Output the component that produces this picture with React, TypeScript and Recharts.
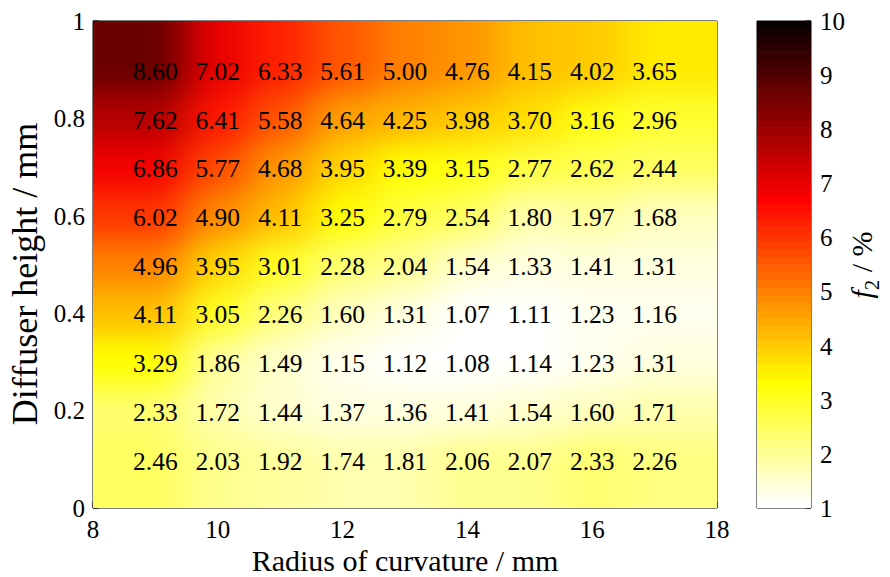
import React from "react";
import { ComposedChart, Scatter, XAxis, YAxis, Label } from "recharts";

// Measurement grid: radius of curvature (mm) and diffuser height (mm)
const RADII = [9, 10, 11, 12, 13, 14, 15, 16, 17];
const HEIGHTS = [0.9, 0.8, 0.7, 0.6, 0.5, 0.4, 0.3, 0.2, 0.1];

// f2 in %, one row per diffuser height, columns follow RADII
const F2_H09 = [8.6, 7.02, 6.33, 5.61, 5.0, 4.76, 4.15, 4.02, 3.65];
const F2_H08 = [7.62, 6.41, 5.58, 4.64, 4.25, 3.98, 3.7, 3.16, 2.96];
const F2_H07 = [6.86, 5.77, 4.68, 3.95, 3.39, 3.15, 2.77, 2.62, 2.44];
const F2_H06 = [6.02, 4.9, 4.11, 3.25, 2.79, 2.54, 1.8, 1.97, 1.68];
const F2_H05 = [4.96, 3.95, 3.01, 2.28, 2.04, 1.54, 1.33, 1.41, 1.31];
const F2_H04 = [4.11, 3.05, 2.26, 1.6, 1.31, 1.07, 1.11, 1.23, 1.16];
const F2_H03 = [3.29, 1.86, 1.49, 1.15, 1.12, 1.08, 1.14, 1.23, 1.31];
const F2_H02 = [2.33, 1.72, 1.44, 1.37, 1.36, 1.41, 1.54, 1.6, 1.71];
const F2_H01 = [2.46, 2.03, 1.92, 1.74, 1.81, 2.06, 2.07, 2.33, 2.26];

const X_TICKS = [8, 10, 12, 14, 16, 18];
const Y_TICKS = [0, 0.2, 0.4, 0.6, 0.8, 1];
const CBAR_TICKS = [1, 2, 3, 4, 5, 6, 7, 8, 9, 10];
const C_MIN = 1;
const C_MAX = 10;

const ROWS = [F2_H09, F2_H08, F2_H07, F2_H06, F2_H05, F2_H04, F2_H03, F2_H02, F2_H01];
const cells = HEIGHTS.flatMap((h, r) => RADII.map((x, c) => ({ x, y: h, v: ROWS[r][c] })));

const SERIF = '"Liberation Serif", "Times New Roman", serif';
const W = 890;
const H = 577;

// main plot box
const MARGIN = { top: 20, right: 172, bottom: 0, left: 0 };
const Y_AXIS_W = 93;
const X_AXIS_H = 69;
const PLOT_X = MARGIN.left + Y_AXIS_W;
const PLOT_Y = MARGIN.top + 1;
const PLOT_W = W - MARGIN.right - 1 - PLOT_X;
const PLOT_H = H - X_AXIS_H - PLOT_Y;
const CELL_W = PLOT_W / 10;
const CELL_H = PLOT_H / 10;
const BLEED = 90;

// colour bar box
const CB_LEFT = 756;
const CB_AXIS_W = 79;
const CB_W = W - CB_AXIS_W - CB_LEFT - 1;

// MATLAB-style hot(64), flipped so low values are white
const HOT_N = 64;
function hotRgb(i: number) {
  const n = 24;
  const r = i < n ? (i + 1) / n : 1;
  const g = i < n ? 0 : i < 2 * n ? (i - n + 1) / n : 1;
  const b = i < 2 * n ? 0 : (i - 2 * n + 1) / (HOT_N - 2 * n);
  return `rgb(${Math.round(r * 255)},${Math.round(g * 255)},${Math.round(b * 255)})`;
}
const bandColor = (j: number) => hotRgb(HOT_N - 1 - j);
function f2Color(v: number) {
  const j = Math.floor(((v - C_MIN) / (C_MAX - C_MIN)) * HOT_N);
  return bandColor(Math.min(HOT_N - 1, Math.max(0, j)));
}
const BANDS = Array.from({ length: HOT_N }, (_, j) => ({
  x: 0.5,
  y: C_MIN + ((j + 0.5) * (C_MAX - C_MIN)) / HOT_N,
  color: bandColor(j),
}));

const HeatCell = (props: any) => {
  const { cx, cy, payload } = props;
  let left = cx - CELL_W / 2 - 0.5;
  let right = cx + CELL_W / 2 + 0.5;
  let top = cy - CELL_H / 2 - 0.5;
  let bottom = cy + CELL_H / 2 + 0.5;
  // stretch the outer cells past the frame so the smoothing doesn't fade at the edges
  if (payload.x === RADII[0]) left -= BLEED;
  if (payload.x === RADII[RADII.length - 1]) right += BLEED;
  if (payload.y === HEIGHTS[0]) top -= BLEED;
  if (payload.y === HEIGHTS[HEIGHTS.length - 1]) bottom += BLEED;
  return <rect x={left} y={top} width={right - left} height={bottom - top} fill={f2Color(payload.v)} />;
};

const BandRect = (props: any) => {
  const { cx, cy, payload } = props;
  const h = PLOT_H / HOT_N + 0.6;
  return <rect x={cx - CB_W / 2} y={cy - h / 2} width={CB_W} height={h} fill={payload.color} />;
};

const ValueLabel = (props: any) => {
  const { cx, cy, payload } = props;
  return (
    <text x={cx} y={cy} dy="0.4em" textAnchor="middle" fontSize={25.5} fontFamily={SERIF} fill="#000">
      {payload.v.toFixed(2)}
    </text>
  );
};

const XTitle = (props: any) => {
  const vb = props.viewBox || { x: PLOT_X, y: PLOT_Y + PLOT_H, width: PLOT_W, height: X_AXIS_H };
  return (
    <text x={vb.x + vb.width / 2} y={570.5} textAnchor="middle" fontSize={30} fontFamily={SERIF} fill="#000">
      Radius of curvature / mm
    </text>
  );
};

const YTitle = () => {
  const x = 37;
  const y = 274;
  return (
    <text x={x} y={y} transform={`rotate(-90, ${x}, ${y})`} textAnchor="middle" fontSize={36} fontFamily={SERIF} fill="#000">
      Diffuser height / mm
    </text>
  );
};

const CbarTitle = () => {
  const x = 872;
  const y = 265;
  return (
    <text x={x} y={y} transform={`rotate(-90, ${x}, ${y})`} textAnchor="middle" fontSize={30} fontFamily={SERIF} fill="#000">
      <tspan fontStyle="italic">f</tspan>
      <tspan fontSize={21} dy={7}>2</tspan>
      <tspan dy={-7}> / %</tspan>
    </text>
  );
};

const tickStyle = { fill: "#000", fontSize: 25, fontFamily: SERIF };
const line = { stroke: "#000", strokeWidth: 1 };

export default function App() {
  return (
    <div style={{ position: "absolute", left: 0, top: 0, width: W, height: H, background: "#fff" }}>
      <style>{`.f2-heat { filter: url(#f2-smooth); clip-path: url(#f2-plot); }`}</style>
      <svg width={0} height={0} style={{ position: "absolute" }}>
        <defs>
          <filter id="f2-smooth" filterUnits="userSpaceOnUse" x={-300} y={-300} width={1500} height={1200} colorInterpolationFilters="sRGB">
            <feGaussianBlur stdDeviation="19 15" />
          </filter>
          <clipPath id="f2-plot">
            <rect x={PLOT_X} y={PLOT_Y} width={PLOT_W} height={PLOT_H} />
          </clipPath>
        </defs>
      </svg>

      <div style={{ position: "absolute", left: 0, top: 0 }}>
        <ComposedChart width={W} height={H} margin={MARGIN}>
          <Scatter className="f2-heat" xAxisId="b" yAxisId="l" data={cells} shape={HeatCell} isAnimationActive={false} />
          <Scatter xAxisId="b" yAxisId="l" data={cells} shape={ValueLabel} isAnimationActive={false} />
          <XAxis xAxisId="b" type="number" dataKey="x" domain={[8, 18]} ticks={X_TICKS} allowDataOverflow
            height={X_AXIS_H} tick={tickStyle} tickSize={-6} tickMargin={18} axisLine={line} tickLine={line}>
            <Label content={XTitle} />
          </XAxis>
          <XAxis xAxisId="t" orientation="top" type="number" domain={[8, 18]} ticks={X_TICKS} allowDataOverflow
            height={1} tick={false} tickSize={-6} axisLine={line} tickLine={line} />
          <YAxis yAxisId="l" type="number" dataKey="y" domain={[0, 1]} ticks={Y_TICKS} allowDataOverflow
            width={Y_AXIS_W} tick={tickStyle} tickSize={-6} tickMargin={14} axisLine={line} tickLine={line}>
            <Label content={YTitle} />
          </YAxis>
          <YAxis yAxisId="r" orientation="right" type="number" domain={[0, 1]} ticks={Y_TICKS} allowDataOverflow
            width={1} tick={false} tickSize={-6} axisLine={line} tickLine={line} />
        </ComposedChart>
      </div>

      <div style={{ position: "absolute", left: 0, top: 0 }}>
        <ComposedChart width={W} height={H} margin={{ top: 20, right: 0, bottom: X_AXIS_H - 1, left: CB_LEFT }}>
          <Scatter xAxisId="cbb" yAxisId="cb" data={BANDS} shape={BandRect} isAnimationActive={false} />
          <XAxis xAxisId="cbb" type="number" dataKey="x" domain={[0, 1]} allowDataOverflow
            height={1} tick={false} tickLine={false} axisLine={line} />
          <XAxis xAxisId="cbt" orientation="top" type="number" domain={[0, 1]} allowDataOverflow
            height={1} tick={false} tickLine={false} axisLine={line} />
          <YAxis yAxisId="cbl" type="number" domain={[C_MIN, C_MAX]} ticks={CBAR_TICKS} allowDataOverflow
            width={1} tick={false} tickSize={-5} axisLine={line} tickLine={line} />
          <YAxis yAxisId="cb" orientation="right" type="number" dataKey="y" domain={[C_MIN, C_MAX]} ticks={CBAR_TICKS} allowDataOverflow
            width={CB_AXIS_W} tick={tickStyle} tickSize={-5} tickMargin={14} axisLine={line} tickLine={line}>
            <Label content={CbarTitle} />
          </YAxis>
        </ComposedChart>
      </div>
    </div>
  );
}
